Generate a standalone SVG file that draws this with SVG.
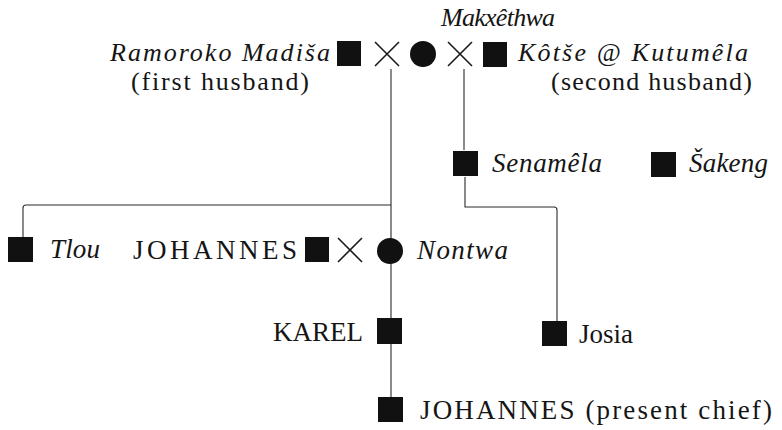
<svg xmlns="http://www.w3.org/2000/svg" width="782" height="430" viewBox="0 0 782 430">
  <style>
    .bg { fill: #ffffff; }
    .male { fill: #111111; }
    .female { fill: #111111; }
    .line { stroke: #2a2a2a; stroke-width: 1.1; fill: none; }
    .cross { stroke: #1a1a1a; stroke-width: 1.6; fill: none; }
    .lbl { font-family: 'Liberation Serif', 'DejaVu Serif', serif; font-size: 27px; fill: #151515; }
    .top { font-size: 26px; }
    .it { font-style: italic; }
  </style>
  <rect class="bg" x="0" y="0" width="782" height="430"/>

  <!-- descent and sibling lines -->
  <g id="connectors">
    <path class="line" d="M391,69 V398"/>
    <path class="line" d="M391,205 H26 Q23,205 23,208 V237"/>
    <path class="line" d="M464,69 V150"/>
    <path class="line" d="M465,177 V207 H554 Q557,207 557,210 V321"/>
  </g>

  <g id="makxethwa">
    <circle class="female" cx="423" cy="54" r="13"/>
    <text class="lbl top it" x="441" y="26" textLength="114" lengthAdjust="spacing">Makxêthwa</text>
  </g>

  <g id="ramoroko">
    <rect class="male" x="337" y="41" width="24" height="25"/>
    <text class="lbl top it" x="110" y="61" textLength="220" lengthAdjust="spacing">Ramoroko Madiša</text>
    <text class="lbl top" x="131" y="90" textLength="178" lengthAdjust="spacing">(first husband)</text>
  </g>

  <g id="marriage-1">
    <path class="cross" d="M375,42 L399,66 M399,42 L375,66"/>
  </g>

  <g id="marriage-2">
    <path class="cross" d="M448,42 L472,66 M472,42 L448,66"/>
  </g>

  <g id="kotse">
    <rect class="male" x="483" y="42" width="24" height="25"/>
    <text class="lbl top it" x="518" y="61" textLength="230" lengthAdjust="spacing">Kôtše @ Kutumêla</text>
    <text class="lbl top" x="551" y="90" textLength="201" lengthAdjust="spacing">(second husband)</text>
  </g>

  <g id="senamela">
    <rect class="male" x="453" y="151" width="25" height="25"/>
    <text class="lbl it" x="492" y="172" textLength="110" lengthAdjust="spacing">Senamêla</text>
  </g>

  <g id="sakeng">
    <rect class="male" x="651" y="152" width="25" height="25"/>
    <text class="lbl it" x="689" y="172" textLength="79" lengthAdjust="spacing">Šakeng</text>
  </g>

  <g id="tlou">
    <rect class="male" x="8" y="237" width="25" height="25"/>
    <text class="lbl it" x="50" y="258" textLength="50" lengthAdjust="spacing">Tlou</text>
  </g>

  <g id="johannes-1">
    <rect class="male" x="305" y="237" width="24" height="25"/>
    <text class="lbl" x="133" y="259" textLength="164" lengthAdjust="spacing">JOHANNES</text>
  </g>

  <g id="marriage-3">
    <path class="cross" d="M338,238 L362,262 M362,238 L338,262"/>
  </g>

  <g id="nontwa">
    <circle class="female" cx="390" cy="251" r="13"/>
    <text class="lbl it" x="417" y="259" textLength="91" lengthAdjust="spacing">Nontwa</text>
  </g>

  <g id="karel">
    <rect class="male" x="377" y="318" width="25" height="26"/>
    <text class="lbl" x="273" y="341" textLength="90" lengthAdjust="spacing">KAREL</text>
  </g>

  <g id="josia">
    <rect class="male" x="542" y="321" width="25" height="25"/>
    <text class="lbl" x="579" y="343" textLength="54" lengthAdjust="spacing">Josia</text>
  </g>

  <g id="johannes-2">
    <rect class="male" x="378" y="397" width="25" height="25"/>
    <text class="lbl" x="420" y="419" textLength="352" lengthAdjust="spacing">JOHANNES (present chief)</text>
  </g>
</svg>
